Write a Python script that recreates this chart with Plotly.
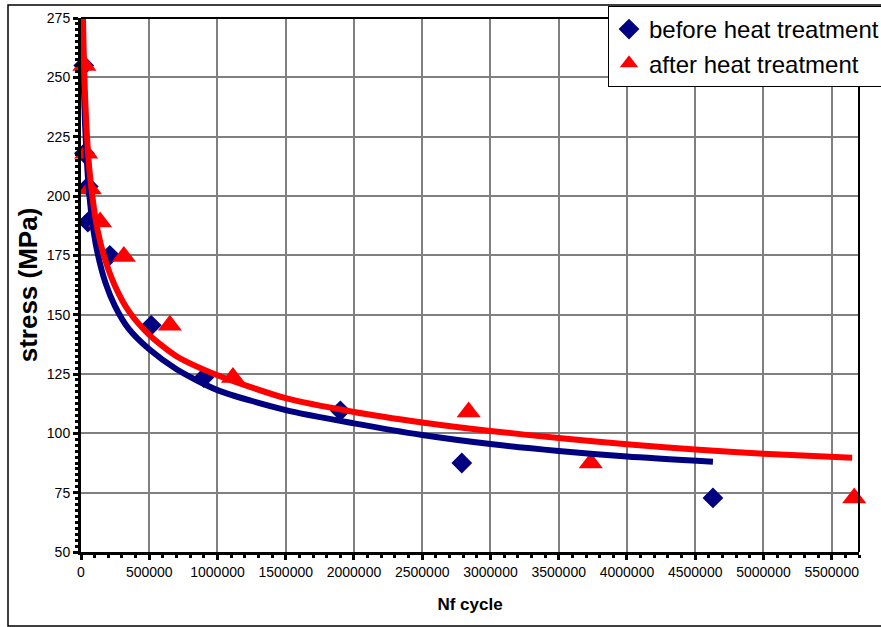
import plotly.graph_objects as go

# ---- data ----
cycles_before = [20000, 25000, 53000, 50000, 211000, 515000, 900000, 1900000, 2790000, 4630000]
stress_before = [255, 218, 204, 189, 175, 145.5, 123.5, 109.5, 87.5, 72.8]

cycles_after = [25000, 38000, 65000, 140000, 314000, 651000, 1113000, 2840000, 3735000, 5665000]
stress_after = [255, 218, 203, 189, 174.5, 145.5, 123.5, 109, 87.5, 72.8]

# trendline (power fit) points
trend_before_x = [10500, 15000, 20000, 30000, 45000, 62000, 90000, 125000, 180000, 250000,
                  350000, 500000, 700000, 1000000, 1500000, 2000000, 2500000, 3000000,
                  3500000, 4000000, 4630000]
trend_before_y = [278, 262, 248, 230, 213, 200, 186, 175, 163.3, 153.5,
                  144, 135.4, 127, 118.2, 109.8, 104.2, 99.3, 95.5,
                  92.6, 90.2, 88.0]

trend_after_x = [13000, 15000, 20000, 28000, 40000, 60000, 85000, 120000, 170000, 250000,
                 350000, 500000, 700000, 1000000, 1500000, 2000000, 2500000, 3000000,
                 3500000, 4000000, 4500000, 5000000, 5650000]
trend_after_y = [279, 274, 260, 245, 229, 212, 199, 186, 174.5, 162,
                 151.5, 141.5, 132.5, 124.5, 114.8, 109, 104.6, 101,
                 98, 95.4, 93.2, 91.4, 89.7]

x_ticks = [0, 500000, 1000000, 1500000, 2000000, 2500000, 3000000,
           3500000, 4000000, 4500000, 5000000, 5500000]
y_ticks = [50, 75, 100, 125, 150, 175, 200, 225, 250, 275]

NAVY = "#000080"
RED = "#FF0000"
FONT = "Liberation Sans, Arial, sans-serif"

fig = go.Figure()

fig.add_trace(go.Scatter(
    x=cycles_before, y=stress_before, mode="markers", name="before heat treatment",
    marker=dict(symbol="diamond", size=16, color=NAVY, line=dict(width=0)),
    legendgroup="a", cliponaxis=False))
fig.add_trace(go.Scatter(
    x=cycles_after, y=stress_after, mode="markers", name="after heat treatment",
    marker=dict(symbol="triangle-up", size=21, color=RED, line=dict(width=0)),
    legendgroup="b", cliponaxis=False))
fig.add_trace(go.Scatter(
    x=trend_before_x, y=trend_before_y, mode="lines", showlegend=False,
    line=dict(color=NAVY, width=6, shape="spline", smoothing=0.7), hoverinfo="skip"))
fig.add_trace(go.Scatter(
    x=trend_after_x, y=trend_after_y, mode="lines", showlegend=False,
    line=dict(color=RED, width=6, shape="spline", smoothing=0.7), hoverinfo="skip"))

L, R, T, B = 81, 22, 18, 75
W, H = 881, 627
pw, ph = W - L - R, H - T - B

def px_x(p):
    return (p - L) / pw

def px_y(p):
    return (H - B - p) / ph

fig.update_layout(
    width=W, height=H,
    margin=dict(l=L, r=R, t=T, b=B, autoexpand=False),
    paper_bgcolor="white", plot_bgcolor="white",
    font=dict(family=FONT, color="black"),
    showlegend=True,
    legend=dict(
        x=px_x(608), y=px_y(6), xanchor="left", yanchor="top",
        bgcolor="white", bordercolor="black", borderwidth=1,
        font=dict(size=24, family=FONT, color="black"),
        tracegroupgap=0,
    ),
    shapes=[
        # outer chart frame
        dict(type="rect", xref="paper", yref="paper",
             x0=px_x(8), x1=px_x(890), y0=px_y(626), y1=px_y(5),
             line=dict(color="black", width=1.5), layer="below"),
        # plot-area top and right border
        dict(type="line", xref="paper", yref="paper", x0=0, x1=1, y0=1, y1=1,
             line=dict(color="black", width=2)),
        dict(type="line", xref="paper", yref="paper", x0=1, x1=1, y0=0, y1=1,
             line=dict(color="black", width=2)),
    ],
)

fig.update_xaxes(
    range=[0, 5700000], tickvals=x_ticks, ticktext=[str(v) for v in x_ticks],
    showgrid=True, gridcolor="#808080", gridwidth=2,
    showline=True, linecolor="black", linewidth=3,
    ticks="outside", ticklen=5, tickwidth=3, tickcolor="black",
    minor=dict(dtick=100000, tick0=0, ticks="outside", ticklen=3, tickwidth=3,
               tickcolor="black", showgrid=False),
    tickfont=dict(size=14, family=FONT, color="black"),
    title=dict(text="<b>Nf cycle</b>", font=dict(size=17, family=FONT, color="black"),
               standoff=20),
    zeroline=False, automargin=False,
)
fig.update_yaxes(
    range=[50, 275], tickvals=y_ticks, ticktext=[str(v) for v in y_ticks],
    showgrid=True, gridcolor="#808080", gridwidth=2,
    showline=True, linecolor="black", linewidth=3,
    ticks="outside", ticklen=5, tickwidth=3, tickcolor="black",
    minor=dict(dtick=2.5, tick0=50, ticks="outside", ticklen=3, tickwidth=3,
               tickcolor="black", showgrid=False),
    tickfont=dict(size=14, family=FONT, color="black"),
    title=dict(text="<b>stress (MPa)</b>", font=dict(size=26, family=FONT, color="black"),
               standoff=2),
    zeroline=False, automargin=False,
)

fig.write_html("out.html")
